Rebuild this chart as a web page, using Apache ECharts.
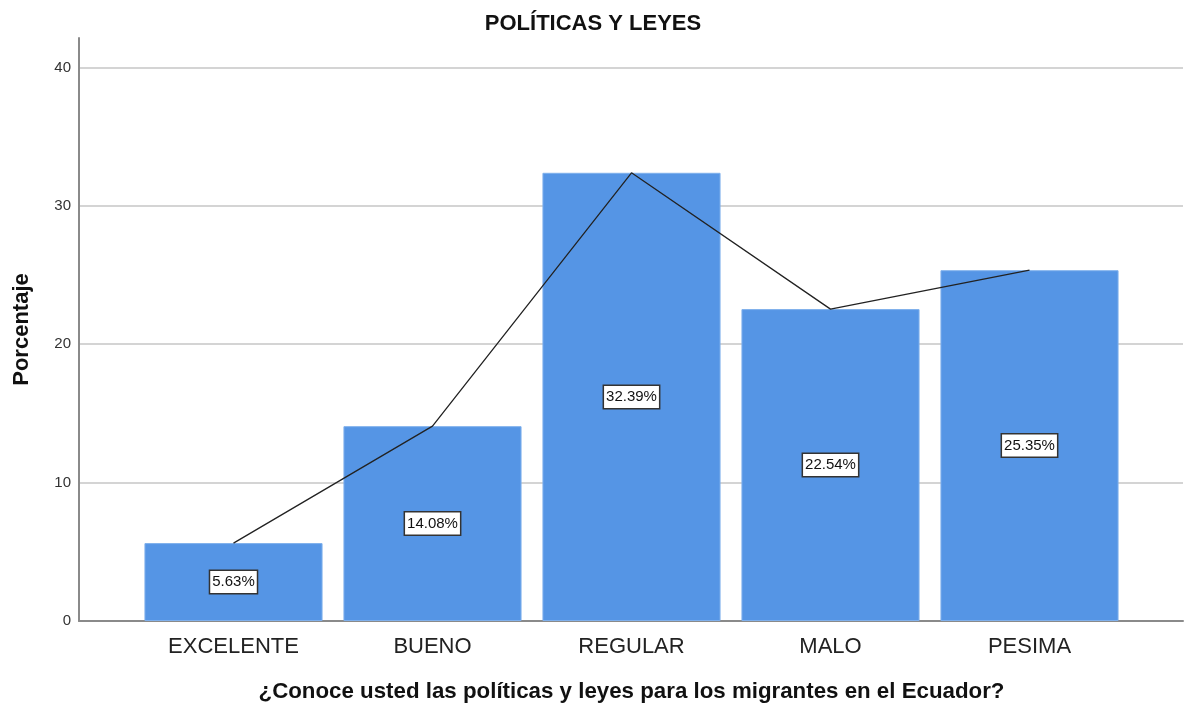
<!DOCTYPE html>
<html>
<head>
<meta charset="utf-8">
<script src="https://cdn.jsdelivr.net/npm/echarts@6/dist/echarts.min.js"></script>
<style>
  html, body { margin: 0; padding: 0; background: #fff; }
  #main { width: 1186px; height: 708px; }
</style>
</head>
<body>
<div id="main"></div>
<script>
var categorias = ["EXCELENTE", "BUENO", "REGULAR", "MALO", "PESIMA"];
var porcentajes = [5.63, 14.08, 32.39, 22.54, 25.35];
var yTicks = [0, 10, 20, 30, 40];

var myChart = echarts.init(document.getElementById("main"));
myChart.setOption({
  animation: false,
  backgroundColor: "#fff",
  title: {
    text: "POLÍTICAS Y LEYES",
    left: "center",
    top: 8,
    textStyle: { fontFamily: "Liberation Sans", fontSize: 22, fontWeight: "bold", color: "#111" }
  },
  grid: [
    // marco con eje Y y lineas de referencia
    { left: 79, right: 3, top: 38, bottom: 87, outerBoundsMode: "none", containLabel: false },
    // barras, con margen a los lados
    { left: 134, right: 57, top: 38, bottom: 87, outerBoundsMode: "none", containLabel: false }
  ],
  xAxis: [
    {
      gridIndex: 0,
      type: "value",
      min: 0,
      max: 1,
      axisLine: { show: true, lineStyle: { color: "#8a8a8a", width: 2 } },
      axisTick: { show: false },
      axisLabel: { show: false },
      splitLine: { show: false }
    },
    {
      gridIndex: 1,
      type: "category",
      data: categorias,
      axisLine: { show: false },
      axisTick: { show: false },
      axisLabel: {
        margin: 15,
        fontFamily: "Liberation Sans",
        fontSize: 22,
        color: "#222"
      },
      name: "¿Conoce usted las políticas y leyes para los migrantes en el Ecuador?",
      nameLocation: "middle",
      nameGap: 60,
      nameTextStyle: { fontFamily: "Liberation Sans", fontSize: 22.3, fontWeight: "bold", color: "#111" }
    }
  ],
  yAxis: [
    {
      gridIndex: 0,
      type: "value",
      min: 0,
      max: 42.13,
      interval: 10,
      axisLine: { show: true, lineStyle: { color: "#8a8a8a", width: 2 } },
      axisTick: { show: false },
      axisLabel: {
        margin: 8,
        fontFamily: "Liberation Sans",
        fontSize: 15,
        color: "#333",
        showMaxLabel: false,
        formatter: function (v) { return yTicks.indexOf(v) >= 0 ? String(v) : ""; }
      },
      splitLine: { show: true, showMinLine: false, showMaxLine: false, lineStyle: { color: "#d4d4d4", width: 2 } },
      name: "Porcentaje",
      nameLocation: "middle",
      nameGap: 46,
      nameTextStyle: { fontFamily: "Liberation Sans", fontSize: 22, fontWeight: "bold", color: "#111" }
    },
    {
      gridIndex: 1,
      type: "value",
      min: 0,
      max: 42.13,
      show: false
    }
  ],
  series: [
    {
      type: "bar",
      xAxisIndex: 1,
      yAxisIndex: 1,
      data: porcentajes,
      barWidth: "89.5%",
      itemStyle: { color: "#5595e5", borderColor: "#7fb0ec", borderWidth: 1 },
      label: {
        show: true,
        position: "inside",
        formatter: function (p) { return p.value.toFixed(2) + "%"; },
        fontFamily: "Liberation Sans",
        fontSize: 15,
        color: "#111",
        backgroundColor: "#fff",
        borderColor: "#333",
        borderWidth: 1.5,
        padding: [4, 2, 3, 2]
      },
      z: 2
    },
    {
      type: "line",
      xAxisIndex: 1,
      yAxisIndex: 1,
      data: porcentajes,
      symbol: "none",
      lineStyle: { color: "#222", width: 1.3 },
      z: 3
    }
  ]
});
</script>
</body>
</html>
